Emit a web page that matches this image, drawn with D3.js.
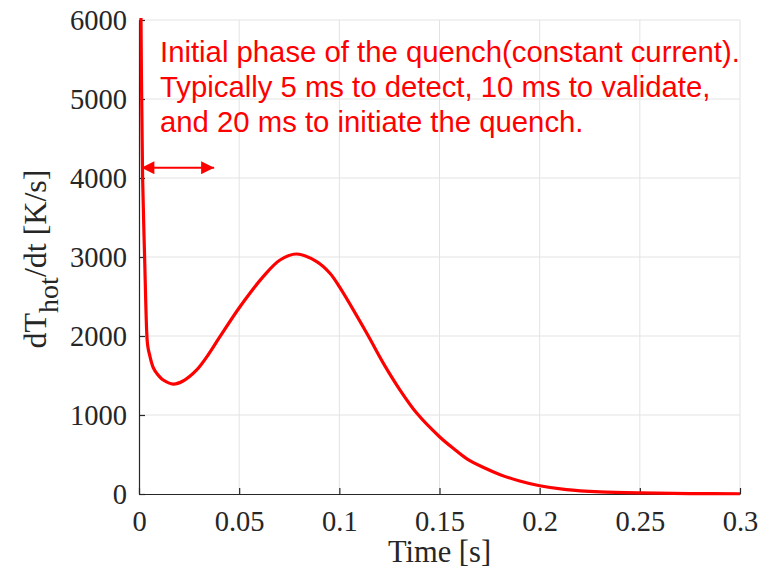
<!DOCTYPE html>
<html>
<head>
<meta charset="utf-8">
<script src="https://cdn.jsdelivr.net/npm/d3@7"></script>
<style>
  html, body { margin: 0; padding: 0; background: #fff; }
  svg { display: block; }
</style>
</head>
<body>
<svg id="chart" width="771" height="578"></svg>
<script>
// ---- data ----
const timeS = [0.0006, 0.001, 0.0018, 0.0028, 0.0038, 0.0042, 0.0047, 0.0055, 0.0063, 0.0072, 0.0088, 0.0121, 0.0171, 0.022, 0.0288, 0.0345, 0.0404, 0.0504, 0.062, 0.0704, 0.0787, 0.0887, 0.0953, 0.1, 0.1137, 0.122, 0.1303, 0.1387, 0.15, 0.157, 0.1637, 0.172, 0.1803, 0.19, 0.2, 0.2134, 0.23, 0.25, 0.275, 0.3];
const dTdt  = [8000, 6000, 4000, 3000, 2080, 1910, 1825, 1740, 1660, 1595, 1530, 1443, 1392, 1430, 1570, 1760, 1991, 2371, 2751, 2962, 3038, 2941, 2794, 2624, 2034, 1654, 1316, 1021, 725, 575, 445, 335, 245, 165, 105, 55, 27, 13, 6, 3];
const xTicks = [0, 0.05, 0.1, 0.15, 0.2, 0.25, 0.3];
const xTickLabels = ["0", "0.05", "0.1", "0.15", "0.2", "0.25", "0.3"];
const yTicks = [0, 1000, 2000, 3000, 4000, 5000, 6000];
const yTickLabels = ["0", "1000", "2000", "3000", "4000", "5000", "6000"];
const noteLines = [
  "Initial phase of the quench(constant current).",
  "Typically 5 ms to detect, 10 ms to validate,",
  "and 20 ms to initiate the quench."
];
const arrowSpan = [0.0012, 0.0375];
const arrowLevel = 4130;

// ---- layout ----
const svg = d3.select("#chart");
const L = 139, R = 740, T = 20, B = 494;
const x = d3.scaleLinear().domain([0, 0.3]).range([L, R]);
const y = d3.scaleLinear().domain([0, 6000]).range([B, T]);
const axisColor = "#262626";
const gridColor = "#e3e3e3";
const serif = "'Liberation Serif', 'Times New Roman', serif";
const sans = "'Liberation Sans', Arial, sans-serif";

// grid
const grid = svg.append("g");
grid.selectAll("line.gx").data(xTicks.filter(d => d > 0)).enter().append("line")
  .attr("x1", d => x(d)).attr("x2", d => x(d)).attr("y1", T).attr("y2", B)
  .attr("stroke", gridColor).attr("stroke-width", 1);
grid.selectAll("line.gy").data(yTicks.filter(d => d > 0)).enter().append("line")
  .attr("x1", L).attr("x2", R).attr("y1", d => y(d)).attr("y2", d => y(d))
  .attr("stroke", gridColor).attr("stroke-width", 1);

// axes
const xAxis = d3.axisBottom(x).tickValues(xTicks).tickSizeInner(-6).tickSizeOuter(0)
  .tickFormat((d, i) => xTickLabels[i]);
const gx = svg.append("g").attr("transform", `translate(0,${B})`).call(xAxis);
const yAxis = d3.axisLeft(y).tickValues(yTicks).tickSizeInner(-6).tickSizeOuter(0)
  .tickFormat((d, i) => yTickLabels[i]).tickPadding(12);
const gy = svg.append("g").attr("transform", `translate(${L},0)`).call(yAxis);
[gx, gy].forEach(g => {
  g.select(".domain").attr("stroke", axisColor).attr("stroke-width", 1.2);
  g.selectAll(".tick line").attr("stroke", axisColor).attr("stroke-width", 1.2);
  g.selectAll(".tick text").attr("fill", axisColor)
    .style("font-family", serif).style("font-size", "28.5px");
});
gx.selectAll(".tick text").attr("dy", null).attr("y", 37);
gy.selectAll(".tick text").attr("dy", "0.33em");

// axis labels
svg.append("text").attr("x", (L + R) / 2).attr("y", 562)
  .attr("text-anchor", "middle").attr("fill", axisColor)
  .style("font-family", serif).style("font-size", "30.5px").text("Time [s]");
const yl = svg.append("text")
  .attr("transform", `translate(46,${(T + B) / 2 + 2}) rotate(-90)`)
  .attr("text-anchor", "middle").attr("fill", axisColor)
  .style("font-family", serif).style("font-size", "32px");
yl.append("tspan").text("dT");
yl.append("tspan").attr("dy", 12).style("font-size", "28px").text("hot");
yl.append("tspan").attr("dy", -12).text("/dt [K/s]");

// curve
svg.append("clipPath").attr("id", "clip").append("rect")
  .attr("x", L).attr("y", T - 2).attr("width", R - L + 3).attr("height", B - T + 4);
const pts = timeS.map((t, i) => [t, dTdt[i]]);
const line = d3.line().x(d => x(d[0])).y(d => y(d[1])).curve(d3.curveCatmullRom.alpha(0.5));
svg.append("path").datum(pts).attr("d", line)
  .attr("clip-path", "url(#clip)")
  .attr("fill", "none").attr("stroke", "#ff0000").attr("stroke-width", 3.2)
  .attr("stroke-linejoin", "round");

// arrow
const defs = svg.append("defs");
defs.append("marker").attr("id", "ah").attr("viewBox", "0 0 10 10")
  .attr("refX", 10).attr("refY", 5).attr("markerWidth", 14).attr("markerHeight", 13)
  .attr("markerUnits", "userSpaceOnUse").attr("orient", "auto-start-reverse")
  .append("path").attr("d", "M0,0 L10,5 L0,10 Z").attr("fill", "#ff0000");
svg.append("line")
  .attr("x1", x(arrowSpan[0])).attr("x2", x(arrowSpan[1]))
  .attr("y1", y(arrowLevel)).attr("y2", y(arrowLevel))
  .attr("stroke", "#ff0000").attr("stroke-width", 2)
  .attr("marker-start", "url(#ah)").attr("marker-end", "url(#ah)");

// annotation
svg.append("g").selectAll("text").data(noteLines).enter().append("text")
  .attr("x", 160).attr("y", (d, i) => 62 + i * 35)
  .attr("fill", "#ff0000").style("font-family", sans).style("font-size", "29.3px")
  .text(d => d);
</script>
</body>
</html>
